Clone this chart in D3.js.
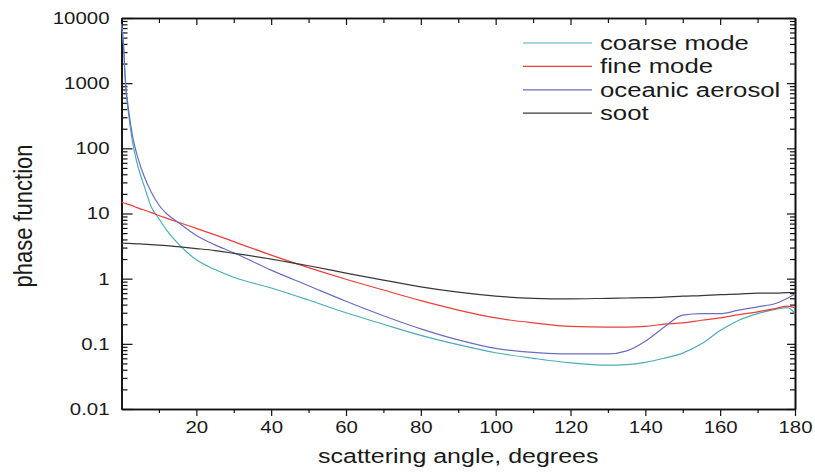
<!DOCTYPE html>
<html>
<head>
<meta charset="utf-8">
<script src="https://cdn.jsdelivr.net/npm/d3@7/dist/d3.min.js"></script>
<style>
  body { margin: 0; background: #fff; }
  svg text { font-family: "Liberation Sans", Arial, sans-serif; fill: #1a1a1a; }
  .frame path, .frame line { stroke: #111; }
</style>
</head>
<body>
<svg id="chart"></svg>
<script>
//DATA//
var angles = [0, 0.5, 1, 2, 3, 4, 5, 6, 8, 10, 12, 15, 20, 25, 30, 40, 50, 60, 70, 80, 90,
  100, 110, 120, 130, 135, 140, 145, 150, 155, 160, 165, 170, 175, 178, 180];

var coarseMode = [8000, 4000, 1100, 300, 120, 65, 40, 27, 12.5, 8.3, 5.6, 3.5, 1.95, 1.38, 1.05,
  0.72, 0.47, 0.3, 0.2, 0.135, 0.097, 0.073, 0.06, 0.051, 0.047, 0.048, 0.052, 0.06, 0.072,
  0.1, 0.16, 0.23, 0.29, 0.34, 0.36, 0.29];

var fineMode = [15, 14.65, 14.3, 13.7, 13.1, 12.4, 11.8, 11.3, 10.3, 9.3, 8.5, 7.4, 5.9, 4.7, 3.7,
  2.3, 1.48, 0.98, 0.67, 0.46, 0.33, 0.25, 0.21, 0.185, 0.18, 0.18, 0.185, 0.2, 0.21,
  0.23, 0.25, 0.28, 0.31, 0.35, 0.38, 0.36];

var oceanicAerosol = [8000, 4200, 1200, 350, 150, 85, 55, 38, 21, 13.5, 10, 7.4, 4.6, 3.3, 2.5,
  1.35, 0.78, 0.45, 0.27, 0.17, 0.115, 0.085, 0.074, 0.07, 0.07, 0.078, 0.11, 0.18, 0.275,
  0.29, 0.29, 0.33, 0.37, 0.42, 0.5, 0.58];

var soot = [3.5, 3.5, 3.49, 3.47, 3.45, 3.43, 3.41, 3.38, 3.33, 3.28, 3.22, 3.1, 2.9, 2.7, 2.45,
  2.0, 1.58, 1.22, 0.95, 0.75, 0.62, 0.54, 0.5, 0.49, 0.5, 0.505, 0.51, 0.52, 0.54,
  0.55, 0.57, 0.58, 0.6, 0.6, 0.61, 0.61];

var seriesNames = ["coarse mode", "fine mode", "oceanic aerosol", "soot"];
var seriesValues = [coarseMode, fineMode, oceanicAerosol, soot];
var seriesColors = ["#4aadb8", "#e8403a", "#6a6ec0", "#383838"];

var xMajorTicks = [20, 40, 60, 80, 100, 120, 140, 160, 180];
var xMinorTicks = [10, 30, 50, 70, 90, 110, 130, 150, 170];
var yMajorTicks = [0.01, 0.1, 1, 10, 100, 1000, 10000];
var yTickLabels = ["0.01", "0.1", "1", "10", "100", "1000", "10000"];

var xTitle = "scattering angle, degrees";
var yTitle = "phase function";

//SETUP//
var screen = { width: 815, height: 473 };
var plot = { left: 121.5, right: 795, top: 18, bottom: 409 };

var svg = d3.select("#chart").attr("width", screen.width).attr("height", screen.height);

var xScale = d3.scaleLinear().domain([0, 180]).range([plot.left, plot.right]);
var yScale = d3.scaleLog().domain([0.01, 10000]).range([plot.bottom, plot.top]);

// the source picture is squeezed wider than the fonts, so widen text a bit
var stretch = function (sel, k) {
  sel.each(function () {
    var w = this.getComputedTextLength();
    d3.select(this).attr("textLength", w * k).attr("lengthAdjust", "spacingAndGlyphs");
  });
};

var yMinorTicks = yScale.ticks().filter(function (v) {
  return yMajorTicks.indexOf(v) < 0;
});

//AXES//
var axes = svg.append("g").classed("frame", true);

var drawAxis = function (axis, tx, ty) {
  var g = axes.append("g")
    .attr("transform", "translate(" + tx + "," + ty + ")")
    .call(axis);
  g.select(".domain").attr("stroke-width", 1.6);
  g.selectAll(".tick line").attr("stroke-width", 1.2);
  return g;
};

// bottom: ticks outward
var xAxis = drawAxis(
  d3.axisBottom(xScale).tickValues(xMajorTicks).tickSize(7).tickPadding(5).tickSizeOuter(0), 0, plot.bottom);
xAxis.selectAll("text").attr("font-size", 17).attr("fill", "#1a1a1a");
stretch(xAxis.selectAll("text"), 1.2);
drawAxis(d3.axisBottom(xScale).tickValues(xMinorTicks).tickSize(4).tickFormat("").tickSizeOuter(0), 0, plot.bottom);

// top: ticks inward
drawAxis(d3.axisTop(xScale).tickValues(xMajorTicks).tickSize(-7).tickFormat("").tickSizeOuter(0), 0, plot.top);
drawAxis(d3.axisTop(xScale).tickValues(xMinorTicks).tickSize(-5).tickFormat("").tickSizeOuter(0), 0, plot.top);

// left: ticks inward
var yAxis = drawAxis(
  d3.axisLeft(yScale).tickValues(yMajorTicks).tickSize(-11).tickPadding(12).tickSizeOuter(0)
    .tickFormat(function (d, i) { return yTickLabels[i]; }), plot.left, 0);
yAxis.selectAll("text").attr("font-size", 17).attr("fill", "#1a1a1a");
stretch(yAxis.selectAll("text"), 1.2);
drawAxis(d3.axisLeft(yScale).tickValues(yMinorTicks).tickSize(-6).tickFormat("").tickSizeOuter(0), plot.left, 0);

// right: ticks inward
drawAxis(d3.axisRight(yScale).tickValues(yMajorTicks).tickSize(-8).tickFormat("").tickSizeOuter(0), plot.right, 0);
drawAxis(d3.axisRight(yScale).tickValues(yMinorTicks).tickSize(-5).tickFormat("").tickSizeOuter(0), plot.right, 0);

//LINES//
var line = d3.line()
  .x(function (d) { return xScale(d[0]); })
  .y(function (d) { return yScale(d[1]); })
  .curve(d3.curveMonotoneX);

var lines = svg.append("g").classed("lines", true);
seriesValues.forEach(function (vals, i) {
  var pts = angles.map(function (a, j) { return [a, vals[j]]; });
  lines.append("path")
    .datum(pts)
    .attr("d", line)
    .attr("fill", "none")
    .attr("stroke", seriesColors[i])
    .attr("stroke-width", 1.2);
});

//LEGEND//
var legend = svg.append("g").classed("legend", true);
seriesNames.forEach(function (name, i) {
  var ly = 43 + i * 23.4;
  legend.append("line")
    .attr("x1", 523).attr("x2", 592)
    .attr("y1", ly).attr("y2", ly)
    .attr("stroke", seriesColors[i])
    .attr("stroke-width", 1.2);
  legend.append("text")
    .text(name)
    .attr("x", 600)
    .attr("y", ly + 7)
    .attr("font-size", 19.5);
});
stretch(legend.selectAll("text"), 1.32);

//LABELS//
var xLab = svg.append("text")
  .text(xTitle)
  .attr("text-anchor", "middle")
  .attr("x", (plot.left + plot.right) / 2)
  .attr("y", 463)
  .attr("font-size", 19.5);
stretch(xLab, 1.28);

svg.append("text")
  .text(yTitle)
  .attr("text-anchor", "middle")
  .attr("transform", "translate(32,216) scale(1.17,1) rotate(-90)")
  .attr("font-size", 22);
</script>
</body>
</html>
